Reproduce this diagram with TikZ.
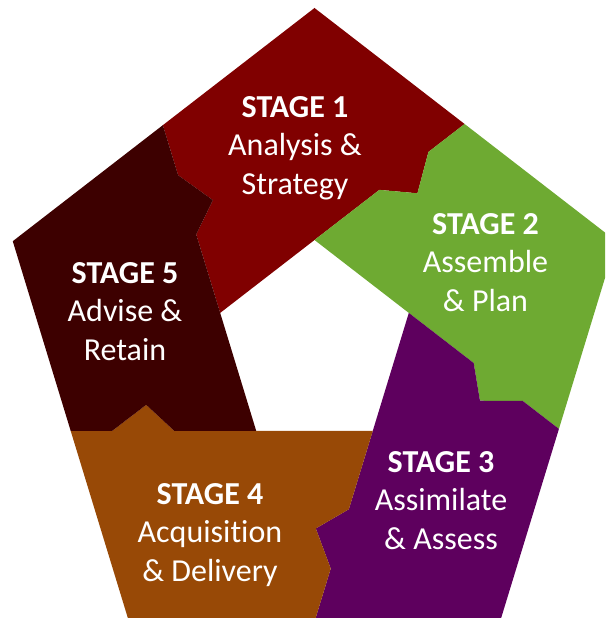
\documentclass[tikz,border=0pt]{standalone}
\usepackage{fontspec}
\setmainfont{Carlito}[Ligatures=NoCommon]
\usepackage{xcolor}
\usetikzlibrary{calc}

\definecolor{stageone}{RGB}{128,0,0}
\definecolor{stagetwo}{RGB}{110,170,50}
\definecolor{stagethree}{RGB}{94,0,94}
\definecolor{stagefour}{RGB}{152,73,6}
\definecolor{stagefive}{RGB}{61,0,0}

\begin{document}
\begin{tikzpicture}[x=1pt, y=1pt]
\tikzset{
  piece/.style     ={draw=none},
  stagetext/.style ={text=white, align=center, inner sep=0pt,
                     font=\fontsize{32}{38.5}\selectfont}
}

%% ----- Canvas -----
\useasboundingbox (-314.5,-272.5) rectangle (290.5,345.5);
\clip (-314.5,-272.5) rectangle (290.5,345.5);

%% ----- Outer and inner pentagon corners -----
\foreach \k in {1,...,5} {
  \coordinate (v\k) at ({0.94*337.5*cos(162-72*\k)}, {337.5*sin(162-72*\k)});
  \coordinate (n\k) at ({0.94*105.5*cos(162-72*\k)}, {105.5*sin(162-72*\k)});
}

%% ----- Cut lines, each with a tab -----
\foreach \k/\j/\m in {1/5/2, 2/1/3, 3/2/4, 4/3/5, 5/4/1} {
  \coordinate (e\k) at (intersection cs: first line={(n\j)--(n\k)},
                                         second line={(v\k)--(v\m)});
  \coordinate (a\k) at ($(n\k)!82pt!(e\k)$);
  \coordinate (p\k) at ($(n\k)!110pt!(e\k)!26pt!-90:(e\k)$);
  \coordinate (b\k) at ($(n\k)!144pt!(e\k)$);
}

%% ----- Pieces -----
\foreach \k/\j/\c in {1/5/stageone, 2/1/stagetwo, 3/2/stagethree,
                      4/3/stagefour, 5/4/stagefive}
  \fill[piece, \c] (n\j) -- (n\k) -- (a\k) -- (p\k) -- (b\k) -- (e\k)
    -- (v\k) -- (e\j) -- (b\j) -- (p\j) -- (a\j) -- cycle;

%% ----- Stage texts -----
\node[stagetext] (s1) at (-19.5,197.5)
  {\strut\textbf{STAGE 1}\\Analysis \&\\Strategy\strut};
\node[stagetext] (s2) at (171,80.5)
  {\strut\textbf{STAGE 2}\\Assemble\\\& Plan\strut};
\node[stagetext] (s3) at (126.5,-157.5)
  {\strut\textbf{STAGE 3}\\Assimilate\\\& Assess\strut};
\node[stagetext] (s4) at (-104.5,-189.5)
  {\strut\textbf{STAGE 4}\\Acquisition\\\& Delivery\strut};
\node[stagetext] (s5) at (-189.5,31.5)
  {\strut\textbf{STAGE 5}\\Advise \&\\Retain\strut};

\end{tikzpicture}
\end{document}
